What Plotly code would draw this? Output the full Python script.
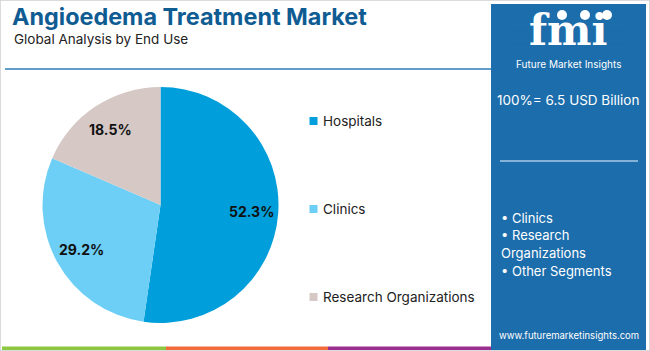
import math
import plotly.graph_objects as go

labels = ["Hospitals", "Clinics", "Research Organizations"]
values = [52.3, 29.2, 18.5]
colors = ["#009FDB", "#6DCFF6", "#D5C8C5"]
panel_items = ["• Clinics", "• Research", "Organizations", "• Other Segments"]
title = "Angioedema Treatment Market"
subtitle = "Global Analysis by End Use"
total_text = "100%= 6.5 USD Billion"
site = "www.futuremarketinsights.com"

W, H = 650, 351
def px(x): return x / W
def py(y): return 1 - y / H

# pie geometry (pixels)
CX, CY, R = 160.5, 205, 118

fig = go.Figure()
fig.add_trace(go.Pie(
    labels=labels, values=values, sort=False, direction="clockwise", rotation=0,
    marker=dict(colors=colors, line=dict(width=0)),
    textinfo="none",
    domain=dict(x=[px(CX - R), px(CX + R)], y=[py(CY + R), py(CY - R)]),
    showlegend=False, hoverinfo="label+percent",
))

shapes = []
ann = []

# slice labels placed at the mid-angle of each slice
total = sum(values)
cum = 0
for v in values:
    mid = (cum + v / 2) / total * 2 * math.pi
    cum += v
    r = 0.77 * R
    lx = CX + r * math.sin(mid)
    ly = CY - r * math.cos(mid)
    ann.append(dict(text=f"<b>{v:.1f}%</b>", x=px(lx), y=py(ly), xanchor="center", yanchor="middle",
                    showarrow=False, font=dict(family="Inter", size=14, color="#111111")))

# outer border
shapes.append(dict(type="rect", xref="paper", yref="paper", x0=0, x1=1, y0=0, y1=1,
                   line=dict(color="#D0D0D0", width=1.5), fillcolor="rgba(0,0,0,0)"))
# title underline
shapes.append(dict(type="line", xref="paper", yref="paper", x0=px(5), x1=px(491), y0=py(69), y1=py(69),
                   line=dict(color="#2F7DB8", width=1.5)))
# bottom strips
for x0, x1, c in [(2, 166, "#8DC63F"), (166, 328, "#F26B3A"), (328, 491, "#9B2F8F")]:
    shapes.append(dict(type="rect", xref="paper", yref="paper", x0=px(x0), x1=px(x1), y0=py(350), y1=py(346.5),
                       line=dict(width=0), fillcolor=c))
# right panel
shapes.append(dict(type="rect", xref="paper", yref="paper", x0=px(491), x1=px(646), y0=py(350), y1=py(4),
                   line=dict(width=0), fillcolor="#1C6DAB"))
shapes.append(dict(type="line", xref="paper", yref="paper", x0=px(500), x1=px(638), y0=py(161), y1=py(161),
                   line=dict(color="#A9CBE6", width=1.5)))

ann.append(dict(text=f"<b>{title}</b>", x=px(10), y=py(17), xanchor="left", yanchor="middle", showarrow=False,
                font=dict(family="Inter", size=23.4, color="#0F5C93")))
ann.append(dict(text=subtitle, x=px(12), y=py(39), xanchor="left", yanchor="middle", showarrow=False,
                font=dict(family="Inter", size=13.5, color="#222222")))

# legend
leg_y = [121, 209, 297]
for lab, c, yy in zip(labels, colors, leg_y):
    shapes.append(dict(type="rect", xref="paper", yref="paper", x0=px(309.5), x1=px(317.5), y0=py(yy + 4), y1=py(yy - 4),
                       line=dict(width=0), fillcolor=c))
    ann.append(dict(text=lab, x=px(321), y=py(yy), xanchor="left", yanchor="middle", showarrow=False,
                    font=dict(family="Inter", size=13.5, color="#222222")))

# logo
ann.append(dict(text="<b>fmi</b>", x=px(568), y=py(57), xanchor="center", yanchor="bottom", showarrow=False,
                font=dict(family="DejaVu Serif", size=42, color="#FFFFFF")))
for yy in [30, 37, 44, 51]:
    shapes.append(dict(type="line", xref="paper", yref="paper", x0=px(512), x1=px(625), y0=py(yy), y1=py(yy),
                       line=dict(color="#1C6DAB", width=1.2)))
for cx in [562, 585, 607]:
    shapes.append(dict(type="circle", xref="paper", yref="paper", x0=px(cx - 5), x1=px(cx + 5), y0=py(20), y1=py(10),
                       line=dict(width=0), fillcolor="#FFFFFF"))
ann.append(dict(text="Future Market Insights", x=px(568), y=py(64), xanchor="center", yanchor="middle", showarrow=False,
                font=dict(family="Inter", size=10, color="#FFFFFF")))
ann.append(dict(text=total_text, x=px(568), y=py(100), xanchor="center", yanchor="middle", showarrow=False,
                font=dict(family="Inter", size=13.5, color="#FFFFFF")))
for t, yy in zip(panel_items, [218, 235.5, 253, 270.5]):
    ann.append(dict(text=t, x=px(499), y=py(yy), xanchor="left", yanchor="middle", showarrow=False,
                    font=dict(family="Inter", size=13, color="#FFFFFF")))
ann.append(dict(text=site, x=px(569), y=py(335), xanchor="center", yanchor="middle", showarrow=False,
                font=dict(family="Inter", size=9.5, color="#FFFFFF")))

fig.update_layout(width=W, height=H, margin=dict(l=0, r=0, t=0, b=0),
                  paper_bgcolor="#FFFFFF", plot_bgcolor="#FFFFFF",
                  shapes=shapes, annotations=ann)
fig.write_html("out.html")
